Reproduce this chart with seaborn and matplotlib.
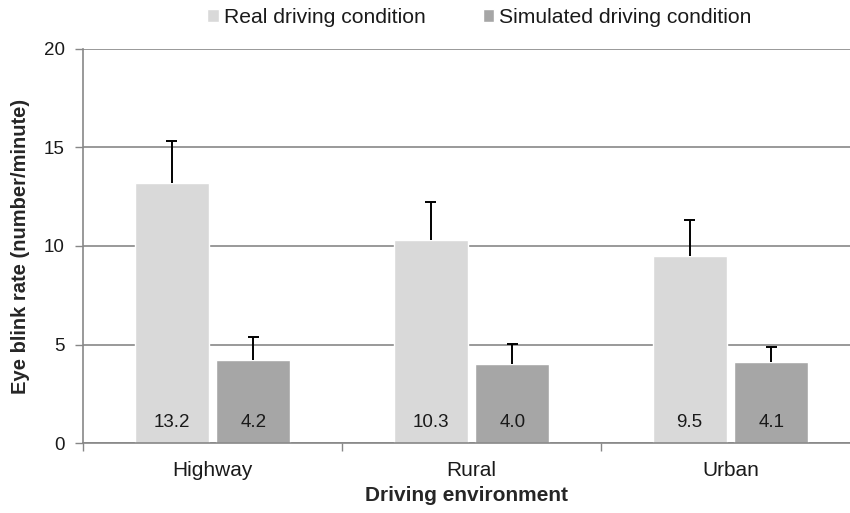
import numpy as np
import pandas as pd
import matplotlib
matplotlib.use("Agg")
import matplotlib.pyplot as plt
import seaborn as sns

environments = ["Highway", "Rural", "Urban"]
conditions = ["Real driving condition", "Simulated driving condition"]
real_rate = [13.2, 10.3, 9.5]
sim_rate = [4.2, 4.0, 4.1]
real_err = [2.13, 1.94, 1.84]
sim_err = [1.18, 1.03, 0.77]

df = pd.DataFrame({
    "env": environments * 2,
    "cond": [conditions[0]] * 3 + [conditions[1]] * 3,
    "rate": real_rate + sim_rate,
})

sns.set_theme(style="white")
plt.rcParams["font.family"] = ["Liberation Sans", "DejaVu Sans"]
grid_col = "#878787"
txt_col = "#1a1a1a"

fig = plt.figure(figsize=(8.5, 5.13), dpi=100)
ax = fig.add_axes([83 / 850, 1 - 443 / 513, 1 - 83 / 850, (443 - 49) / 513])

sns.barplot(data=df, x="env", y="rate", hue="cond", order=environments, hue_order=conditions,
            palette=["#D9D9D9", "#A6A6A6"], width=0.632, gap=0.095, errorbar=None,
            saturation=1, ax=ax, zorder=2)

# one-sided error bars (upper only), like the original
errs = real_err + sim_err
vals = real_rate + sim_rate
bars = [p for p in ax.patches if p.get_height() > 0]
cap_half = 0.022
for bar, v, e in zip(bars, vals, errs):
    cx = bar.get_x() + bar.get_width() / 2
    ax.vlines(cx, v, v + e, color="black", linewidth=1.4, zorder=3)
    ax.hlines(v + e, cx - cap_half, cx + cap_half, color="black", linewidth=1.4, zorder=3)
    ax.text(cx, 1.06, f"{v:.1f}", ha="center", va="center", fontsize=13.5, color=txt_col, zorder=4)

ax.set_ylim(0, 20)
ax.set_yticks([0, 5, 10, 15, 20])
ax.set_xlim(-0.5, 2.5 - 10 / 259)
ax.yaxis.grid(True, color=grid_col, linewidth=1.2, zorder=0)
ax.set_axisbelow(True)
for s in ["top", "right"]:
    ax.spines[s].set_visible(False)
for s in ["left", "bottom"]:
    ax.spines[s].set_color(grid_col)
    ax.spines[s].set_linewidth(1.2)

ax.tick_params(axis="y", left=True, length=6, width=1.0, color=grid_col, labelsize=13.5,
               labelcolor=txt_col, pad=7)
ax.tick_params(axis="x", which="major", bottom=False, length=0, labelsize=15, labelcolor=txt_col, pad=13)
ax.set_xticks([-0.5, 0.5, 1.5], minor=True)
ax.tick_params(axis="x", which="minor", bottom=True, length=6, width=1.0, color=grid_col)

ax.set_xlabel("Driving environment", fontsize=15, fontweight="bold", labelpad=4)
ax.set_ylabel("Eye blink rate (number/minute)", fontsize=14.5, fontweight="bold", labelpad=10)

handles, labels = ax.get_legend_handles_labels()
ax.legend_.remove()
fig.legend(handles, labels, loc="center", bbox_to_anchor=(0.564, 0.966), ncol=2, frameon=False,
           fontsize=15.2, handlelength=0.55, handleheight=0.55, handletextpad=0.25, columnspacing=2.7,
           labelcolor=txt_col)

fig.savefig("out.png", dpi=100)
